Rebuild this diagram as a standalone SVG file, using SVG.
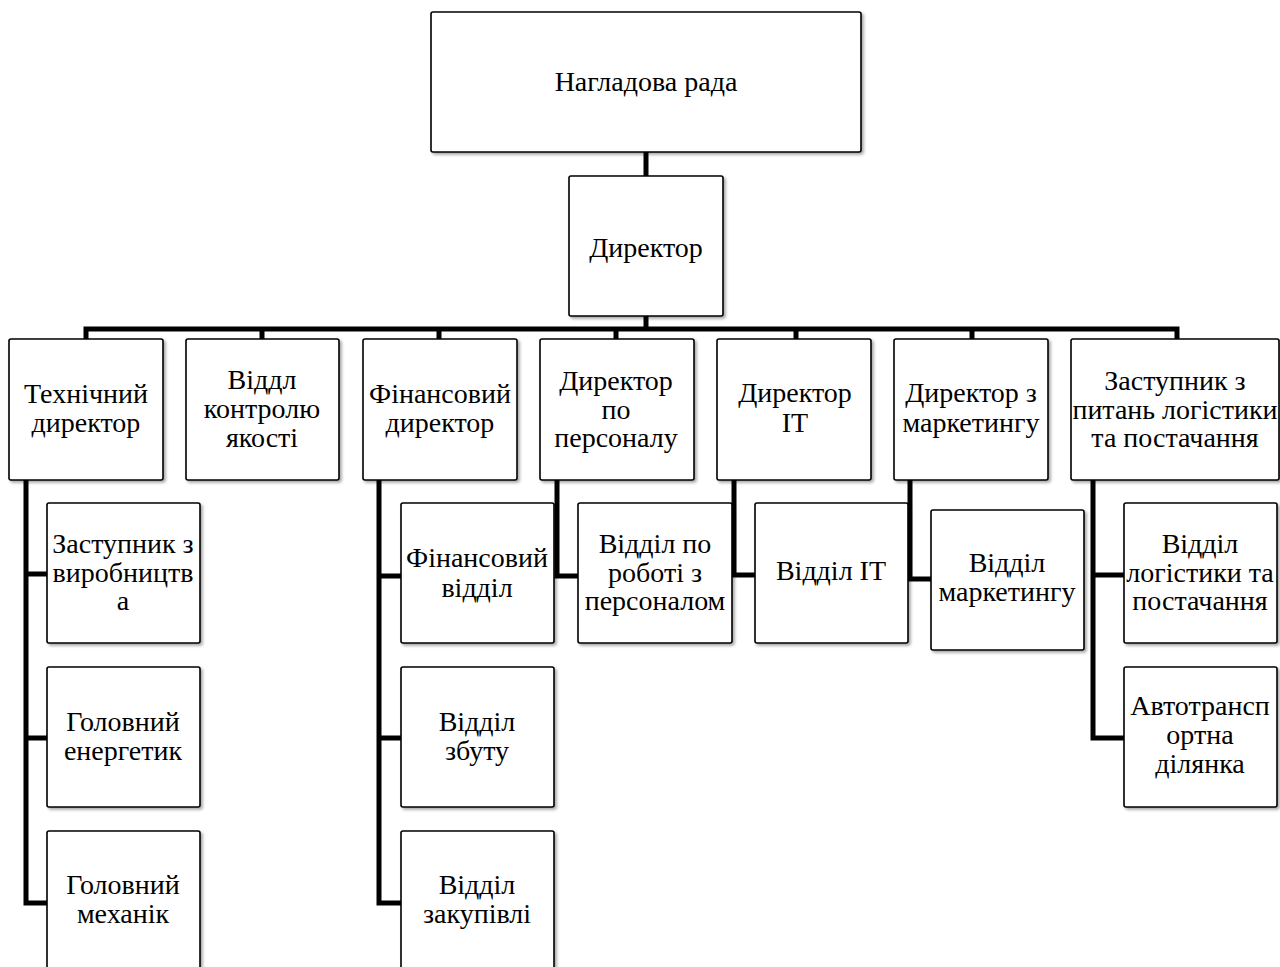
<svg xmlns="http://www.w3.org/2000/svg" width="1280" height="967" viewBox="0 0 1280 967">
<style>
.box{fill:#fff;stroke:#000;stroke-width:1.6;filter:url(#sh)}
.t{font-family:"Liberation Serif","Times New Roman",serif;font-size:28px;fill:#000;text-anchor:middle}
.c{fill:none;stroke:#000;stroke-width:5;stroke-linejoin:miter;stroke-linecap:butt}
</style>
<defs>
<filter id="sh" x="-10%" y="-10%" width="130%" height="130%">
<feDropShadow dx="2" dy="2" stdDeviation="1.5" flood-color="#000" flood-opacity="0.35"/>
</filter>
</defs>
<rect width="1280" height="967" fill="#fff"/>
<g id="connectors">
<path class="c" d="M646,152V176"/>
<path class="c" d="M646,316V329"/>
<path class="c" d="M86,339V329H1177V339"/>
<path class="c" d="M262,329V339M439,329V339M616,329V339M796,329V339M972,329V339"/>
<path class="c" d="M26,480V903H47M26,574H47M26,738H47"/>
<path class="c" d="M379,480V903H401M379,576H401M379,738H401"/>
<path class="c" d="M557,480V576H578"/>
<path class="c" d="M734,480V575H755"/>
<path class="c" d="M910,480V579H931"/>
<path class="c" d="M1093,480V738H1124M1093,575H1124"/>
</g>
<g id="n-rada"><rect class="box" x="431" y="12" width="430" height="140" rx="2"/><text class="t" x="646" y="91">Нагладова рада</text></g>
<g id="n-dir"><rect class="box" x="569" y="176" width="154" height="140" rx="2"/><text class="t" x="646" y="257">Директор</text></g>
<g id="n-tech"><rect class="box" x="9" y="339" width="154" height="141" rx="2"/><text class="t" x="86" y="403">Технічний</text><text class="t" x="86" y="432">директор</text></g>
<g id="n-qc"><rect class="box" x="186" y="339" width="153" height="141" rx="2"/><text class="t" x="262" y="389">Віддл</text><text class="t" x="262" y="418">контролю</text><text class="t" x="262" y="447">якості</text></g>
<g id="n-fin"><rect class="box" x="363" y="339" width="154" height="141" rx="2"/><text class="t" x="440" y="403">Фінансовий</text><text class="t" x="440" y="432">директор</text></g>
<g id="n-hr"><rect class="box" x="540" y="339" width="154" height="141" rx="2"/><text class="t" x="616" y="390">Директор</text><text class="t" x="616" y="419">по</text><text class="t" x="616" y="447">персоналу</text></g>
<g id="n-it"><rect class="box" x="717" y="339" width="154" height="141" rx="2"/><text class="t" x="795" y="402">Директор</text><text class="t" x="795" y="432">IT</text></g>
<g id="n-mkt"><rect class="box" x="894" y="339" width="154" height="141" rx="2"/><text class="t" x="971" y="402">Директор з</text><text class="t" x="971" y="432">маркетингу</text></g>
<g id="n-log"><rect class="box" x="1071" y="339" width="208" height="141" rx="2"/><text class="t" x="1175" y="390">Заступник з</text><text class="t" x="1175" y="419">питань логістики</text><text class="t" x="1175" y="447">та постачання</text></g>
<g id="n-prod"><rect class="box" x="47" y="503" width="153" height="140" rx="2"/><text class="t" x="123" y="553">Заступник з</text><text class="t" x="123" y="582">виробництв</text><text class="t" x="123" y="610">а</text></g>
<g id="n-energ"><rect class="box" x="47" y="667" width="153" height="140" rx="2"/><text class="t" x="123" y="731">Головний</text><text class="t" x="123" y="760">енергетик</text></g>
<g id="n-mech"><rect class="box" x="47" y="831" width="153" height="170" rx="2"/><text class="t" x="123" y="894">Головний</text><text class="t" x="123" y="923">механік</text></g>
<g id="n-findep"><rect class="box" x="401" y="503" width="153" height="140" rx="2"/><text class="t" x="477" y="567">Фінансовий</text><text class="t" x="477" y="597">відділ</text></g>
<g id="n-sales"><rect class="box" x="401" y="667" width="153" height="140" rx="2"/><text class="t" x="477" y="731">Відділ</text><text class="t" x="477" y="760">збуту</text></g>
<g id="n-purch"><rect class="box" x="401" y="831" width="153" height="170" rx="2"/><text class="t" x="477" y="894">Відділ</text><text class="t" x="477" y="923">закупівлі</text></g>
<g id="n-hrdep"><rect class="box" x="578" y="503" width="154" height="140" rx="2"/><text class="t" x="655" y="553">Відділ по</text><text class="t" x="655" y="582">роботі з</text><text class="t" x="655" y="610">персоналом</text></g>
<g id="n-itdep"><rect class="box" x="755" y="503" width="153" height="140" rx="2"/><text class="t" x="831" y="580">Відділ IT</text></g>
<g id="n-mktdep"><rect class="box" x="931" y="510" width="153" height="140" rx="2"/><text class="t" x="1007" y="572">Відділ</text><text class="t" x="1007" y="601">маркетингу</text></g>
<g id="n-logdep"><rect class="box" x="1124" y="503" width="153" height="140" rx="2"/><text class="t" x="1200" y="553">Відділ</text><text class="t" x="1200" y="582">логістики та</text><text class="t" x="1200" y="610">постачання</text></g>
<g id="n-auto"><rect class="box" x="1124" y="667" width="153" height="140" rx="2"/><text class="t" x="1200" y="715">Автотрансп</text><text class="t" x="1200" y="744">ортна</text><text class="t" x="1200" y="773">ділянка</text></g>
</svg>
